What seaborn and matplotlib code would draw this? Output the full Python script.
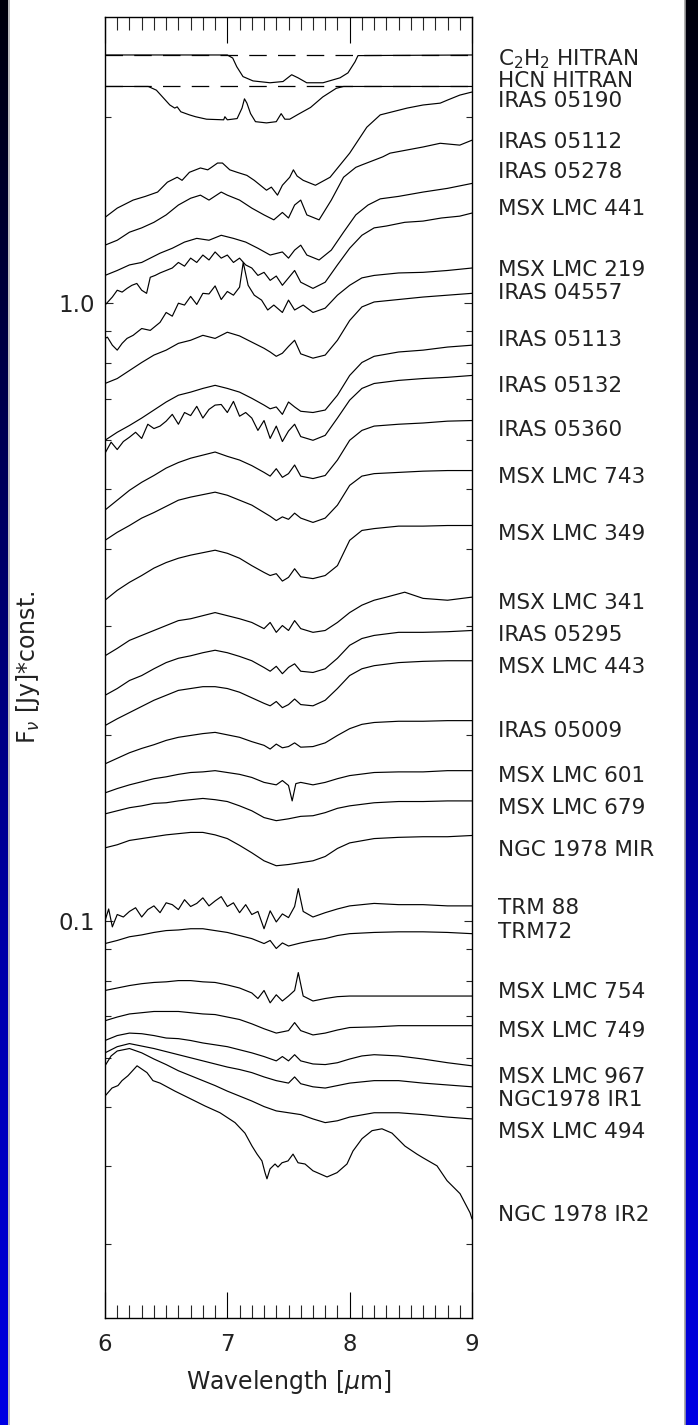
import numpy as np
import matplotlib
matplotlib.use("Agg")
import matplotlib.pyplot as plt
import matplotlib.transforms as mtransforms
from matplotlib.ticker import MultipleLocator, LogLocator, FixedLocator, FixedFormatter, NullFormatter
from matplotlib.colors import LinearSegmentedColormap
import seaborn as sns

# ---------------- data: wavelength [um] and log10(F_nu*const) ----------------
c2h2_wl = [6.0, 7.0, 7.044, 7.077, 7.128, 7.21, 7.349, 7.455, 7.526, 7.578, 7.649, 7.782, 7.921, 7.986, 8.044, 8.068, 9.0]
c2h2_logf = [0.402, 0.402, 0.397, 0.383, 0.367, 0.360, 0.357, 0.359, 0.370, 0.365, 0.357, 0.357, 0.365, 0.373, 0.391, 0.401, 0.402]
c2h2_cont = 0.402

hcn_wl = [6.0, 6.354, 6.42, 6.53, 6.57, 6.59, 6.62, 6.69, 6.74, 6.83, 6.97, 6.98, 7.0, 7.08, 7.12, 7.14, 7.16,
          7.19, 7.23, 7.32, 7.40, 7.44, 7.47, 7.51, 7.58, 7.68, 7.78, 7.89, 7.95, 9.0]
hcn_logf = [0.351, 0.351, 0.345, 0.321, 0.316, 0.318, 0.310, 0.305, 0.302, 0.298, 0.297, 0.302, 0.297, 0.299, 0.316,
            0.331, 0.324, 0.307, 0.294, 0.292, 0.294, 0.307, 0.298, 0.298, 0.306, 0.317, 0.334, 0.348, 0.351, 0.351]
hcn_cont = 0.351

grid30 = [6.0, 6.1, 6.2, 6.3, 6.4, 6.5, 6.6, 6.7, 6.8, 6.9, 7.0, 7.1, 7.2, 7.3, 7.35, 7.4, 7.45, 7.5, 7.55,
          7.6, 7.7, 7.8, 7.9, 8.0, 8.1, 8.2, 8.4, 8.6, 8.8, 9.0]
grid26 = [6.0, 6.1, 6.2, 6.3, 6.4, 6.5, 6.6, 6.7, 6.8, 6.9, 7.0, 7.1, 7.2, 7.3, 7.4, 7.5, 7.6, 7.7, 7.8, 7.9,
          8.0, 8.2, 8.4, 8.6, 8.8, 9.0]
grid27 = [6.0, 6.1, 6.2, 6.3, 6.4, 6.5, 6.6, 6.7, 6.8, 6.9, 7.0, 7.1, 7.2, 7.3, 7.4, 7.5, 7.55, 7.6, 7.7, 7.8,
          7.9, 8.0, 8.2, 8.4, 8.6, 8.8, 9.0]

iras05190_wl = [6.0, 6.1, 6.23, 6.33, 6.43, 6.51, 6.59, 6.63, 6.69, 6.78, 6.84, 6.87, 6.92, 6.96, 7.02, 7.08, 7.16,
                7.22, 7.32, 7.36, 7.41, 7.45, 7.51, 7.54, 7.57, 7.62, 7.72, 7.84, 8.0, 8.14, 8.25, 8.47, 8.6, 8.74,
                8.8, 8.9, 9.0]
iras05190 = [0.139, 0.154, 0.167, 0.173, 0.180, 0.196, 0.204, 0.199, 0.212, 0.219, 0.216, 0.220, 0.227, 0.227,
             0.216, 0.212, 0.207, 0.199, 0.183, 0.188, 0.175, 0.191, 0.204, 0.216, 0.206, 0.199, 0.191, 0.204,
             0.243, 0.285, 0.305, 0.316, 0.321, 0.324, 0.329, 0.337, 0.342]

iras05112_wl = [6.0, 6.1, 6.2, 6.3, 6.4, 6.5, 6.6, 6.7, 6.78, 6.85, 6.95, 7.0, 7.1, 7.2, 7.3, 7.38, 7.45, 7.5, 7.55,
                7.6, 7.65, 7.75, 7.85, 7.95, 8.05, 8.1, 8.27, 8.33, 8.6, 8.74, 8.9, 9.0]
iras05112 = [0.094, 0.102, 0.115, 0.122, 0.131, 0.143, 0.159, 0.170, 0.175, 0.167, 0.180, 0.175, 0.167, 0.154,
             0.143, 0.135, 0.147, 0.138, 0.159, 0.167, 0.143, 0.135, 0.167, 0.204, 0.220, 0.224, 0.237, 0.243,
             0.253, 0.259, 0.256, 0.264]

iras05278_wl = [6.0, 6.1, 6.2, 6.3, 6.45, 6.55, 6.65, 6.75, 6.85, 6.95, 7.05, 7.15, 7.25, 7.35, 7.45, 7.5, 7.55,
                7.6, 7.65, 7.75, 7.85, 7.95, 8.05, 8.15, 8.25, 8.4, 8.6, 8.8, 9.0]
iras05278 = [0.045, 0.053, 0.062, 0.066, 0.081, 0.089, 0.099, 0.105, 0.102, 0.110, 0.105, 0.099, 0.089, 0.078,
             0.083, 0.073, 0.086, 0.094, 0.078, 0.070, 0.086, 0.115, 0.143, 0.159, 0.169, 0.173, 0.180, 0.186, 0.194]

msx441_wl = [6.0, 6.06, 6.10, 6.14, 6.18, 6.22, 6.26, 6.30, 6.34, 6.37, 6.41, 6.45, 6.55, 6.6, 6.65, 6.7, 6.75,
             6.8, 6.85, 6.9, 6.95, 7.0, 7.05, 7.1, 7.15, 7.2, 7.25, 7.3, 7.35, 7.4, 7.45, 7.5, 7.55, 7.6, 7.7,
             7.8, 7.9, 8.0, 8.1, 8.2, 8.3, 8.45, 8.6, 8.75, 8.9, 9.0]
msx441 = [-0.003, 0.010, 0.021, 0.018, 0.024, 0.029, 0.032, 0.021, 0.016, 0.042, 0.045, 0.049, 0.057, 0.066,
          0.060, 0.073, 0.066, 0.078, 0.070, 0.083, 0.073, 0.078, 0.066, 0.073, 0.062, 0.057, 0.045, 0.050, 0.037,
          0.044, 0.029, 0.041, 0.053, 0.034, 0.024, 0.034, 0.062, 0.089, 0.110, 0.122, 0.125, 0.131, 0.133,
          0.138, 0.141, 0.146]

msx219_wl = [6.0, 6.02, 6.06, 6.1, 6.14, 6.18, 6.23, 6.3, 6.37, 6.45, 6.5, 6.55, 6.6, 6.65, 6.7, 6.75, 6.8, 6.85,
             6.9, 6.95, 7.0, 7.05, 7.1, 7.13, 7.17, 7.22, 7.28, 7.33, 7.38, 7.45, 7.5, 7.55, 7.62, 7.7, 7.8, 7.9,
             8.0, 8.1, 8.2, 8.4, 8.6, 8.8, 9.0]
msx219 = [-0.057, -0.055, -0.068, -0.076, -0.065, -0.057, -0.052, -0.041, -0.044, -0.031, -0.015, -0.021, 0.000,
          -0.003, 0.011, -0.002, 0.016, 0.015, 0.028, 0.006, 0.019, 0.013, 0.026, 0.066, 0.029, 0.013, 0.005,
          -0.011, -0.003, -0.015, 0.005, -0.011, -0.003, -0.015, -0.008, 0.013, 0.029, 0.041, 0.045, 0.049,
          0.050, 0.053, 0.057]

iras04557 = [-0.130, -0.122, -0.109, -0.096, -0.084, -0.076, -0.065, -0.060, -0.052, -0.057, -0.047, -0.053,
             -0.063, -0.073, -0.079, -0.086, -0.081, -0.070, -0.060, -0.082, -0.089, -0.084, -0.060, -0.028,
             -0.006, 0.002, 0.006, 0.010, 0.013, 0.016]
iras05113 = [-0.222, -0.209, -0.198, -0.186, -0.173, -0.160, -0.149, -0.144, -0.138, -0.133, -0.138, -0.144,
             -0.154, -0.165, -0.171, -0.168, -0.180, -0.160, -0.168, -0.175, -0.177, -0.173, -0.149, -0.117,
             -0.096, -0.086, -0.079, -0.076, -0.071, -0.068]

iras05132_wl = [6.0, 6.05, 6.1, 6.15, 6.2, 6.25, 6.3, 6.35, 6.4, 6.45, 6.5, 6.55, 6.6, 6.65, 6.7, 6.75, 6.8,
                6.85, 6.9, 6.95, 7.0, 7.05, 7.1, 7.15, 7.2, 7.25, 7.3, 7.35, 7.4, 7.45, 7.5, 7.55, 7.6, 7.7, 7.8,
                7.9, 8.0, 8.1, 8.2, 8.4, 8.6, 8.8, 9.0]
iras05132 = [-0.243, -0.225, -0.237, -0.224, -0.217, -0.209, -0.219, -0.196, -0.203, -0.199,
             -0.191, -0.180, -0.196, -0.177, -0.182, -0.167, -0.186, -0.172, -0.165, -0.164,
             -0.177, -0.159, -0.183, -0.177, -0.186, -0.206, -0.190, -0.219, -0.199, -0.224,
             -0.207, -0.196, -0.216, -0.222, -0.214, -0.186, -0.157, -0.138, -0.130, -0.125,
             -0.122, -0.120, -0.117]

iras05360 = [-0.335, -0.319, -0.303, -0.290, -0.279, -0.267, -0.258, -0.251, -0.246, -0.241, -0.248, -0.254,
             -0.263, -0.274, -0.280, -0.268, -0.282, -0.276, -0.262, -0.280, -0.284, -0.279, -0.254, -0.222,
             -0.206, -0.199, -0.196, -0.194, -0.191, -0.190]
msx743 = [-0.384, -0.371, -0.360, -0.348, -0.339, -0.329, -0.319, -0.314, -0.310, -0.306, -0.311, -0.319,
          -0.327, -0.339, -0.345, -0.352, -0.346, -0.350, -0.340, -0.348, -0.355, -0.348, -0.327, -0.295,
          -0.280, -0.276, -0.274, -0.272, -0.271, -0.271]
msx349 = [-0.481, -0.465, -0.452, -0.441, -0.429, -0.420, -0.413, -0.408, -0.404, -0.400, -0.405, -0.413,
          -0.425, -0.436, -0.441, -0.438, -0.450, -0.444, -0.430, -0.443, -0.446, -0.441, -0.425, -0.384,
          -0.368, -0.365, -0.361, -0.361, -0.360, -0.360]

msx341_wl = [6.0, 6.1, 6.2, 6.3, 6.4, 6.5, 6.6, 6.7, 6.8, 6.9, 7.0, 7.1, 7.2, 7.3, 7.35, 7.4, 7.45, 7.5, 7.55,
             7.6, 7.7, 7.8, 7.9, 8.0, 8.1, 8.2, 8.3, 8.45, 8.6, 8.8, 9.0]
msx341 = [-0.571, -0.559, -0.546, -0.538, -0.530, -0.522, -0.514, -0.511, -0.506, -0.501, -0.506, -0.511,
          -0.517, -0.527, -0.517, -0.533, -0.522, -0.530, -0.514, -0.527, -0.533, -0.530, -0.517, -0.501,
          -0.489, -0.481, -0.476, -0.468, -0.478, -0.481, -0.476]

iras05295 = [-0.635, -0.624, -0.611, -0.603, -0.592, -0.582, -0.575, -0.571, -0.566, -0.562, -0.566, -0.572,
             -0.579, -0.590, -0.596, -0.588, -0.600, -0.590, -0.584, -0.596, -0.598, -0.592, -0.575, -0.554,
             -0.543, -0.538, -0.533, -0.533, -0.532, -0.530]
msx443 = [-0.684, -0.673, -0.663, -0.653, -0.643, -0.635, -0.627, -0.624, -0.621, -0.621, -0.624, -0.630,
          -0.639, -0.648, -0.652, -0.645, -0.655, -0.650, -0.641, -0.650, -0.652, -0.643, -0.624, -0.603,
          -0.592, -0.587, -0.582, -0.580, -0.579, -0.579]
iras05009 = [-0.746, -0.737, -0.728, -0.721, -0.715, -0.708, -0.703, -0.700, -0.697, -0.695, -0.699, -0.703,
             -0.710, -0.716, -0.722, -0.714, -0.720, -0.718, -0.712, -0.719, -0.718, -0.712, -0.700, -0.689,
             -0.682, -0.679, -0.677, -0.677, -0.676, -0.676]

msx601_wl = [6.0, 6.1, 6.2, 6.3, 6.4, 6.5, 6.6, 6.7, 6.8, 6.9, 7.0, 7.1, 7.2, 7.3, 7.4, 7.45, 7.5, 7.53, 7.56,
             7.6, 7.7, 7.8, 7.9, 8.0, 8.2, 8.4, 8.6, 8.8, 9.0]
msx601 = [-0.793, -0.786, -0.780, -0.775, -0.770, -0.767, -0.763, -0.760, -0.759, -0.757, -0.760, -0.763,
          -0.768, -0.776, -0.780, -0.773, -0.781, -0.806, -0.778, -0.776, -0.780, -0.776, -0.770, -0.765,
          -0.760, -0.759, -0.759, -0.757, -0.757]

msx679 = [-0.827, -0.822, -0.817, -0.814, -0.810, -0.809, -0.806, -0.804, -0.802, -0.804, -0.807, -0.814,
          -0.822, -0.833, -0.838, -0.835, -0.831, -0.830, -0.825, -0.818, -0.814, -0.809, -0.807, -0.807,
          -0.806, -0.806]
ngc1978mir = [-0.882, -0.877, -0.870, -0.867, -0.864, -0.861, -0.859, -0.857, -0.857, -0.861, -0.867, -0.878,
              -0.890, -0.903, -0.911, -0.909, -0.906, -0.903, -0.896, -0.883, -0.874, -0.867, -0.865, -0.864,
              -0.864, -0.862]

trm88_wl = [6.0, 6.03, 6.06, 6.1, 6.15, 6.2, 6.25, 6.3, 6.35, 6.4, 6.45, 6.5, 6.55, 6.6, 6.65, 6.7, 6.75, 6.8,
            6.85, 6.9, 6.95, 7.0, 7.05, 7.1, 7.15, 7.2, 7.25, 7.3, 7.35, 7.4, 7.45, 7.5, 7.55, 7.58, 7.62, 7.7,
            7.8, 7.9, 8.0, 8.2, 8.4, 8.6, 8.8, 9.0]
trm88 = [-1.000, -0.981, -1.010, -0.990, -0.994, -0.985, -0.979, -0.994, -0.982, -0.976,
         -0.987, -0.971, -0.974, -0.982, -0.966, -0.977, -0.972, -0.963, -0.976, -0.968,
         -0.961, -0.977, -0.971, -0.987, -0.974, -0.990, -0.985, -1.013, -0.984, -1.002,
         -0.989, -0.995, -0.977, -0.948, -0.985, -0.994, -0.987, -0.981, -0.976, -0.972,
         -0.974, -0.974, -0.976, -0.976]

trm72_wl = [6.0, 6.1, 6.2, 6.3, 6.4, 6.5, 6.6, 6.7, 6.8, 6.9, 7.0, 7.1, 7.2, 7.3, 7.35, 7.4, 7.45, 7.5, 7.6,
            7.7, 7.8, 7.9, 8.0, 8.2, 8.4, 8.6, 8.8, 9.0]
trm72 = [-1.037, -1.032, -1.026, -1.023, -1.019, -1.016, -1.015, -1.013, -1.013, -1.016, -1.019, -1.024,
         -1.029, -1.037, -1.032, -1.045, -1.036, -1.041, -1.036, -1.032, -1.029, -1.024, -1.021, -1.019,
         -1.018, -1.018, -1.019, -1.021]

msx754_wl = [6.0, 6.1, 6.2, 6.3, 6.4, 6.5, 6.6, 6.7, 6.8, 6.9, 7.0, 7.1, 7.2, 7.25, 7.3, 7.35, 7.4, 7.45, 7.5,
             7.55, 7.58, 7.62, 7.7, 7.8, 7.9, 8.0, 8.2, 8.4, 8.6, 8.8, 9.0]
msx754 = [-1.113, -1.109, -1.105, -1.102, -1.100, -1.099, -1.097, -1.097, -1.099, -1.100, -1.104, -1.109,
          -1.117, -1.126, -1.113, -1.133, -1.120, -1.130, -1.122, -1.113, -1.084, -1.122, -1.130, -1.126,
          -1.123, -1.122, -1.122, -1.122, -1.122, -1.122, -1.122]

msx749 = [-1.162, -1.156, -1.151, -1.149, -1.147, -1.147, -1.147, -1.149, -1.151, -1.152, -1.156, -1.160,
          -1.167, -1.175, -1.182, -1.178, -1.165, -1.178, -1.185, -1.182, -1.177, -1.173, -1.172, -1.170,
          -1.170, -1.170, -1.170]

msx967_wl = [6.0, 6.1, 6.2, 6.3, 6.4, 6.5, 6.6, 6.7, 6.8, 6.9, 7.0, 7.1, 7.2, 7.3, 7.4, 7.45, 7.5, 7.55, 7.6,
             7.7, 7.8, 7.9, 8.0, 8.1, 8.2, 8.4, 8.6, 8.8, 9.0]
msx967 = [-1.194, -1.186, -1.182, -1.183, -1.186, -1.190, -1.191, -1.194, -1.198, -1.201, -1.204, -1.209,
          -1.214, -1.220, -1.227, -1.220, -1.227, -1.217, -1.227, -1.232, -1.233, -1.230, -1.224, -1.219,
          -1.217, -1.219, -1.224, -1.230, -1.235]

ngc1978ir1 = [-1.214, -1.204, -1.199, -1.203, -1.207, -1.212, -1.217, -1.222, -1.227, -1.232, -1.237, -1.241,
              -1.246, -1.253, -1.259, -1.263, -1.253, -1.264, -1.269, -1.271, -1.267, -1.263, -1.259, -1.259,
              -1.263, -1.266, -1.269]

msx494_wl = [6.0, 6.05, 6.1, 6.2, 6.3, 6.4, 6.5, 6.6, 6.7, 6.8, 6.9, 7.0, 7.1, 7.2, 7.3, 7.4, 7.5, 7.6, 7.7,
             7.8, 7.9, 8.0, 8.2, 8.4, 8.6, 8.8, 9.0]
msx494 = [-1.235, -1.219, -1.211, -1.207, -1.214, -1.224, -1.233, -1.243, -1.251, -1.259, -1.267, -1.276,
          -1.284, -1.292, -1.301, -1.308, -1.311, -1.314, -1.321, -1.327, -1.324, -1.318, -1.311, -1.311,
          -1.314, -1.318, -1.321]

ngc1978ir2_wl = [6.0, 6.057, 6.106, 6.139, 6.188, 6.262, 6.343, 6.392, 6.45, 6.572, 6.695, 6.817, 6.94, 7.063,
                 7.144, 7.202, 7.243, 7.283, 7.308, 7.324, 7.349, 7.39, 7.414, 7.447, 7.496, 7.537, 7.578,
                 7.635, 7.7, 7.815, 7.897, 7.978, 8.027, 8.101, 8.183, 8.264, 8.346, 8.452, 8.55, 8.6, 8.714,
                 8.796, 8.902, 8.984, 9.0]
ngc1978ir2 = [-1.284, -1.271, -1.267, -1.259, -1.251, -1.235, -1.246, -1.259, -1.263, -1.276,
              -1.288, -1.300, -1.311, -1.327, -1.344, -1.365, -1.378, -1.389, -1.408, -1.418,
              -1.402, -1.394, -1.399, -1.392, -1.389, -1.378, -1.392, -1.394, -1.405, -1.415,
              -1.408, -1.394, -1.373, -1.353, -1.340, -1.337, -1.344, -1.365, -1.378, -1.384,
              -1.397, -1.421, -1.442, -1.473, -1.483]

labels = ["C$_2$H$_2$ HITRAN", "HCN HITRAN", "IRAS 05190", "IRAS 05112", "IRAS 05278", "MSX LMC 441",
          "MSX LMC 219", "IRAS 04557", "IRAS 05113", "IRAS 05132", "IRAS 05360", "MSX LMC 743",
          "MSX LMC 349", "MSX LMC 341", "IRAS 05295", "MSX LMC 443", "IRAS 05009", "MSX LMC 601",
          "MSX LMC 679", "NGC 1978 MIR", "TRM 88", "TRM72", "MSX LMC 754", "MSX LMC 749",
          "MSX LMC 967", "NGC1978 IR1", "MSX LMC 494", "NGC 1978 IR2"]
label_logy = [0.397, 0.363, 0.331, 0.264, 0.216, 0.156, 0.057, 0.019, -0.057, -0.131, -0.203, -0.279,
              -0.371, -0.483, -0.535, -0.587, -0.690, -0.762, -0.815, -0.882, -0.976, -1.015, -1.112,
              -1.175, -1.250, -1.287, -1.340, -1.473]

source_spectra = [
    (iras05190_wl, iras05190), (iras05112_wl, iras05112), (iras05278_wl, iras05278), (msx441_wl, msx441),
    (msx219_wl, msx219), (grid30, iras04557), (grid30, iras05113), (iras05132_wl, iras05132),
    (grid30, iras05360), (grid30, msx743), (grid30, msx349), (msx341_wl, msx341), (grid30, iras05295),
    (grid30, msx443), (grid30, iras05009), (msx601_wl, msx601), (grid26, msx679), (grid26, ngc1978mir),
    (trm88_wl, trm88), (trm72_wl, trm72), (msx754_wl, msx754), (grid27, msx749), (msx967_wl, msx967),
    (grid27, ngc1978ir1), (msx494_wl, msx494), (ngc1978ir2_wl, ngc1978ir2)]

x_ticks = [6, 7, 8, 9]
y_ticks = [0.1, 1.0]
y_ticklabels = ["0.1", "1.0"]
xlim = (6.0, 9.0)
ylim_log = (-1.6434, 0.4635)

# ---------------- figure ----------------
sns.set_theme(style="white")
plt.rcParams['font.family'] = ['DejaVu Sans']
plt.rcParams['mathtext.fontset'] = 'dejavusans'
TXT = '#222222'

W, H = 698, 1425
fig = plt.figure(figsize=(W / 100, H / 100), dpi=100)
fig.patch.set_facecolor('white')

grad = np.linspace(0, 1, 256).reshape(-1, 1)
bcmap = LinearSegmentedColormap.from_list('bg', ['#00000a', '#00005a', '#0000a8', '#0000e4'])
for x0, w in [(0, 8), (685, 13)]:
    sax = fig.add_axes([x0 / W, 0, w / W, 1])
    sax.imshow(grad, aspect='auto', cmap=bcmap, origin='upper', extent=[0, 1, 0, 1])
    sax.set_axis_off()
fig.add_artist(plt.Line2D([8.5 / W, 8.5 / W], [0, 1], color='#b0b0b0', lw=1.2))
fig.add_artist(plt.Line2D([684.5 / W, 684.5 / W], [0, 1], color='#a0a0a0', lw=1.2))

ax_l, ax_r, ax_t, ax_b = 105, 472, 17, 1318
ax = fig.add_axes([ax_l / W, 1 - ax_b / H, (ax_r - ax_l) / W, (ax_b - ax_t) / H])
ax.set_facecolor('white')
ax.set_yscale('log')

lw = 0.85
for wl, lf, cont in [(c2h2_wl, c2h2_logf, c2h2_cont), (hcn_wl, hcn_logf, hcn_cont)]:
    sns.lineplot(x=[6.0, 9.0], y=[10 ** cont, 10 ** cont], ax=ax, color='black', lw=0.9,
                 linestyle=(0, (14, 9)), estimator=None, sort=False)
    sns.lineplot(x=wl, y=10 ** np.array(lf), ax=ax, color='black', lw=lw, estimator=None, sort=False)

for wl, spec in source_spectra:
    sns.lineplot(x=wl, y=10 ** np.array(spec), ax=ax, color='black', lw=lw, estimator=None, sort=False)

ax.set_xlim(*xlim)
ax.set_ylim(10 ** ylim_log[0], 10 ** ylim_log[1])

for s in ax.spines.values():
    s.set_linewidth(1.0)
    s.set_color('black')

ax.xaxis.set_major_locator(FixedLocator(x_ticks))
ax.xaxis.set_minor_locator(MultipleLocator(0.1))
ax.set_xticklabels([str(t) for t in x_ticks])
ax.yaxis.set_major_locator(FixedLocator(y_ticks))
ax.yaxis.set_major_formatter(FixedFormatter(y_ticklabels))
ax.yaxis.set_minor_locator(LogLocator(base=10, subs=np.arange(2, 10)))
ax.yaxis.set_minor_formatter(NullFormatter())

ax.tick_params(axis='x', which='major', direction='in', top=True, bottom=True, length=18.5, width=0.8,
               labelsize=16.5, pad=11, colors='black', labelcolor=TXT)
ax.tick_params(axis='x', which='minor', direction='in', top=True, bottom=True, length=9.3, width=0.8)
ax.tick_params(axis='y', which='major', direction='in', left=True, right=True, length=5.5, width=0.8,
               labelsize=16.5, pad=7, labelcolor=TXT)
ax.tick_params(axis='y', which='minor', direction='in', left=True, right=True, length=4.5, width=0.8)
ax.set_xlabel('')
ax.set_ylabel('')

lab_trans = mtransforms.offset_copy(ax.transData, fig=fig, x=0, y=-7.8, units='dots')
lab_x = 6.0 + (498 - ax_l) / (ax_r - ax_l) * 3.0
for lab, ly in zip(labels, label_logy):
    ax.text(lab_x, 10 ** ly, lab, transform=lab_trans, ha='left', va='baseline', fontsize=15.5,
            color=TXT, clip_on=False)

fig.text(0.5 * (ax_l + ax_r) / W, 1 - 1382 / H, r'Wavelength [$\mu$m]', ha='center', va='center',
         fontsize=17, color=TXT)
fig.text(28 / W, 1 - 667 / H, r'F$_\nu$ [Jy]*const.', ha='center', va='center', rotation=90,
         fontsize=17, color=TXT)

fig.savefig('out.png', dpi=100, facecolor='white')
